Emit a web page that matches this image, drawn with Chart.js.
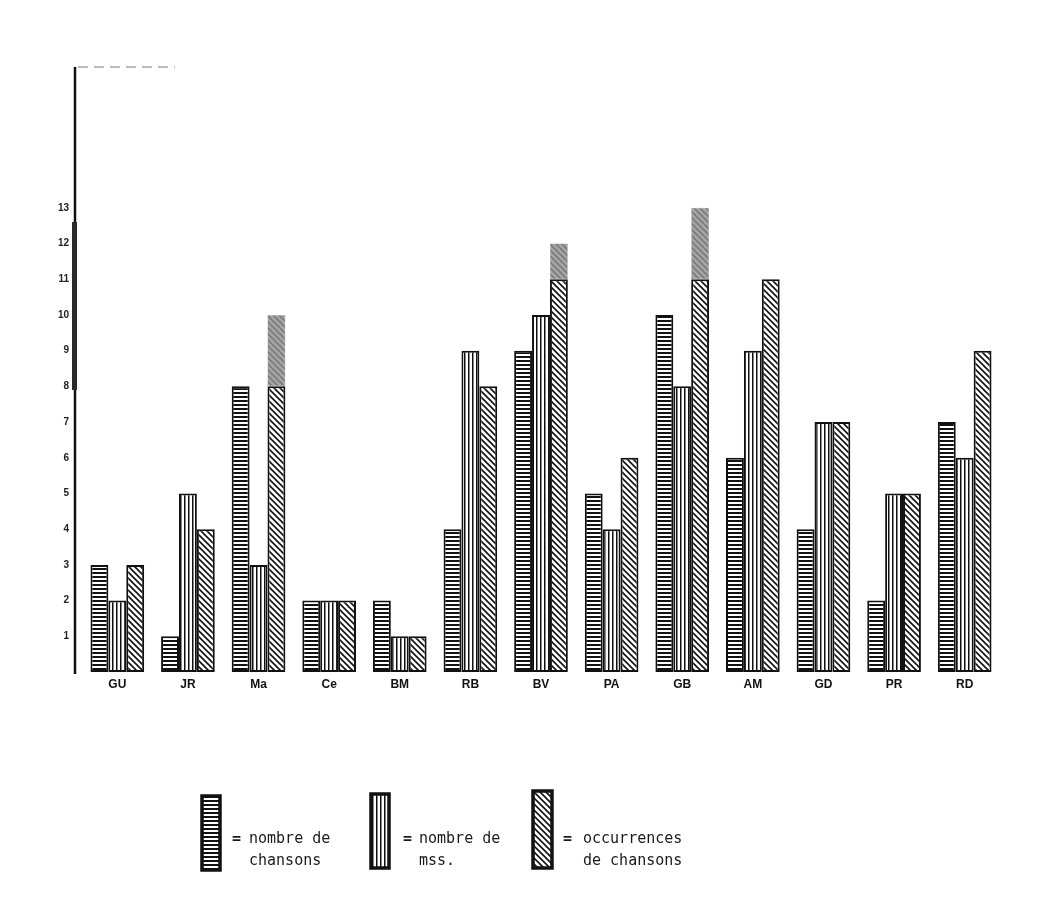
<!DOCTYPE html>
<html>
<head>
<meta charset="utf-8">
<script src="https://cdn.jsdelivr.net/npm/chart.js@4.4.1/dist/chart.umd.min.js"></script>
<style>
  html, body { margin: 0; padding: 0; background: #fff; }
  #wrap { width: 1063px; height: 909px; position: relative; }
</style>
</head>
<body>
<div id="wrap"><canvas id="c" width="1063" height="909"></canvas></div>
<script>
// ---- data ----
const categories = ['GU', 'JR', 'Ma', 'Ce', 'BM', 'RB', 'BV', 'PA', 'GB', 'AM', 'GD', 'PR', 'RD'];
const nombreChansons = [3, 1, 8, 2, 2, 4, 9, 5, 10, 6, 4, 2, 7];
const nombreMss = [2, 5, 3, 2, 1, 9, 10, 4, 8, 9, 7, 5, 6];
const occurrencesBase = [3, 4, 8, 2, 1, 8, 11, 6, 11, 11, 7, 5, 9];
const occurrencesTop = [0, 0, 2, 0, 0, 0, 1, 0, 2, 0, 0, 0, 0];
const yTickLabels = ['1','2','3','4','5','6','7','8','9','10','11','12','13'];
const legendLabels = [['nombre de', 'chansons'], ['nombre de', 'mss.'], ['occurrences', 'de chansons']];

// ---- hatch patterns ----
function makePattern(kind) {
  const c = document.createElement('canvas');
  const s = kind === 'h' ? 4 : (kind === 'v' ? 4 : 6);
  c.width = s; c.height = s;
  const g = c.getContext('2d');
  g.fillStyle = kind === 'gray' ? '#a6a6a6' : '#ffffff';
  g.fillRect(0, 0, s, s);
  if (kind === 'h') {
    g.fillStyle = '#111';
    g.fillRect(0, 0, s, 2);
  } else if (kind === 'v') {
    g.fillStyle = '#111';
    g.fillRect(0, 0, 1.5, s);
  } else {
    g.strokeStyle = kind === 'gray' ? '#7a7a7a' : '#111';
    g.lineWidth = 1.6;
    for (let k = -1; k <= 1; k++) {
      g.beginPath();
      g.moveTo(k * s - 1, -1);
      g.lineTo(k * s + s + 1, s + 1);
      g.stroke();
    }
  }
  return document.createElement('canvas').getContext('2d').createPattern(c, 'repeat');
}
const patH = makePattern('h');
const patV = makePattern('v');
const patD = makePattern('d');
const patG = makePattern('gray');

// ---- left axis line (drawn slightly left of the plot area, as in the scan) ----
const axisPlugin = {
  id: 'axisLine',
  afterDraw(chart) {
    const ctx = chart.ctx, a = chart.chartArea, y = chart.scales.y;
    const x = a.left - 7;
    ctx.save();
    ctx.strokeStyle = '#111';
    ctx.lineWidth = 2.5;
    ctx.beginPath();
    ctx.moveTo(x, a.top + 2);
    ctx.lineTo(x, a.bottom + 2);
    ctx.stroke();
    // heavier inked stretch of the axis
    ctx.strokeStyle = '#2a2a2a';
    ctx.lineWidth = 5;
    ctx.beginPath();
    ctx.moveTo(x - 0.5, y.getPixelForValue(12.6));
    ctx.lineTo(x - 0.5, y.getPixelForValue(7.9));
    ctx.stroke();
    // faint dashes at the top of the frame
    ctx.strokeStyle = '#777';
    ctx.lineWidth = 1.2;
    ctx.setLineDash([10, 6]);
    ctx.beginPath();
    ctx.moveTo(x + 3, a.top + 2);
    ctx.lineTo(x + 100, a.top + 2);
    ctx.stroke();
    ctx.restore();
  }
};

// ---- legend plugin ----
const legendPlugin = {
  id: 'customLegend',
  afterDraw(chart) {
    const ctx = chart.ctx;
    const items = [
      { x: 202, y: 796, w: 18, h: 74, pat: patH, eq: 232, tx: 249 },
      { x: 371, y: 794, w: 18, h: 74, pat: patV, eq: 403, tx: 419 },
      { x: 533, y: 791, w: 19, h: 77, pat: patD, eq: 563, tx: 583 }
    ];
    ctx.save();
    items.forEach((it, i) => {
      ctx.fillStyle = it.pat;
      ctx.fillRect(it.x, it.y, it.w, it.h);
      ctx.strokeStyle = '#111';
      ctx.lineWidth = 3.5;
      ctx.strokeRect(it.x, it.y, it.w, it.h);
      ctx.fillStyle = '#1a1a1a';
      ctx.textBaseline = 'alphabetic';
      ctx.font = 'bold 15px "DejaVu Sans Mono", "Liberation Mono", monospace';
      ctx.fillText('=', it.eq, 843);
      ctx.font = '15px "DejaVu Sans Mono", "Liberation Mono", monospace';
      ctx.fillText(legendLabels[i][0], it.tx, 843);
      ctx.fillText(legendLabels[i][1], it.tx, 865);
    });
    ctx.restore();
  }
};

const common = { borderColor: '#111', borderWidth: 2, borderSkipped: false, categoryPercentage: 0.76, barPercentage: 1.0 };

new Chart(document.getElementById('c'), {
  type: 'bar',
  data: {
    labels: categories,
    datasets: [
      Object.assign({ label: 'nombre de chansons', data: nombreChansons, backgroundColor: patH, stack: 'a' }, common),
      Object.assign({ label: 'nombre de mss.', data: nombreMss, backgroundColor: patV, stack: 'b' }, common),
      Object.assign({ label: 'occurrences de chansons', data: occurrencesBase, backgroundColor: patD, stack: 'c' }, common),
      Object.assign({ label: 'occurrences (grisé)', data: occurrencesTop, backgroundColor: patG, stack: 'c' }, common, { borderColor: '#999', borderWidth: 0.5 })
    ]
  },
  options: {
    responsive: false,
    devicePixelRatio: 1,
    animation: false,
    layout: { padding: { left: 55, right: 63, top: 65, bottom: 0 } },
    plugins: { legend: { display: false }, tooltip: { enabled: false } },
    scales: {
      x: {
        stacked: true,
        grid: { display: false, drawTicks: false },
        border: { display: false },
        ticks: { color: '#111', font: { family: 'Liberation Sans, Arial, sans-serif', size: 12, weight: 'bold' }, padding: 5, maxRotation: 0 },
        afterFit(s) { s.height = 237; }
      },
      y: {
        stacked: true,
        min: 0, max: 17,
        grid: { display: false, drawTicks: false },
        border: { display: false },
        ticks: {
          stepSize: 1,
          color: '#222',
          padding: 13,
          font: { family: 'Liberation Sans, Arial, sans-serif', size: 10, weight: 'bold' },
          callback(v) { return (v >= 1 && v <= yTickLabels.length) ? yTickLabels[v - 1] : ''; }
        },
        afterFit(s) { s.width = 27; }
      }
    }
  },
  plugins: [axisPlugin, legendPlugin]
});
</script>
</body>
</html>
